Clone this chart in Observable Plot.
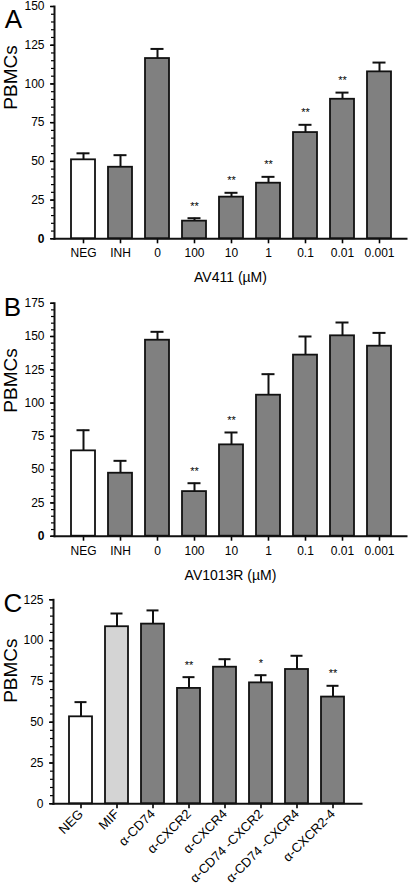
<!DOCTYPE html>
<html><head><meta charset="utf-8">
<script src="https://cdn.jsdelivr.net/npm/d3@7"></script>
<script src="https://cdn.jsdelivr.net/npm/@observablehq/plot@0.6"></script>
<style>
body{margin:0;background:#fff;width:408px;height:888px;overflow:hidden}
svg{display:block}
g[aria-label="x-axis tick label"] text, g[aria-label="y-axis tick label"] text{font-size:12px}
#pc g[aria-label="x-axis tick label"] text{font-size:13px}
</style>
</head><body><div id="chart"></div>
<script>
// Panel A
const catsA = ["NEG","INH","0","100","10","1","0.1","0.01","0.001"];
const meanA = [51,46.2,116.4,11.4,26.9,35.9,68.6,90.1,107.8];
const errA  = [55.2,54,122.6,13.3,29.7,40,73.6,94.4,113.8];
const starsA = ["","","","**","**","**","**","**",""];
const groupA = ["neg","drug","drug","drug","drug","drug","drug","drug","drug"];
const yTicksA = [0,25,50,75,100,125,150];
// Panel B
const catsB = ["NEG","INH","0","100","10","1","0.1","0.01","0.001"];
const meanB = [64.1,47.3,147.2,33.5,68.6,105.9,136,150.5,142.7];
const errB  = [79.6,56.6,153.5,39.8,77.9,121.7,150,160.5,152.7];
const starsB = ["","","","**","**","","","",""];
const groupB = ["neg","drug","drug","drug","drug","drug","drug","drug","drug"];
const yTicksB = [0,25,50,75,100,125,150,175];
// Panel C
const catsC = ["NEG","MIF","α-CD74","α-CXCR2","α-CXCR4","α-CD74 -CXCR2","α-CD74 -CXCR4","α-CXCR2-4"];
const meanC = [53.3,108.5,110.1,70.7,83.7,74.1,82.3,65.4];
const errC  = [62.3,116.6,118.5,77.6,88.6,78.8,90.7,72.3];
const starsC = ["","","","**","","*","","**"];
const groupC = ["neg","mif","drug","drug","drug","drug","drug","drug"];
const yTicksC = [0,25,50,75,100,125];

const FONT = "'Liberation Sans', Arial, Helvetica, sans-serif";

function panel(o) {
  const data = o.cats.map((c, i) => ({c, m: o.mean[i], e: o.err[i], s: o.stars[i], g: o.group[i]}));
  const yMax = o.yTicks[o.yTicks.length - 1];
  const marks = [
    Plot.ruleX(data, {x: "c", y1: "m", y2: "e", stroke: "#111", strokeWidth: 2}),
    Plot.tickY(data, {x: "c", y: "e", stroke: "#111", strokeWidth: 2, insetLeft: 5.5, insetRight: 5.5}),
    Plot.barY(data, {x: "c", y: "m", fill: "g", stroke: "#111", strokeWidth: 1.8}),
    Plot.text(data.filter(d => d.s), {x: "c", y: "e", text: "s", dy: -12, fontSize: 11, fill: "black"}),
    Plot.axisY({ticks: d3.range(0, yMax + 1, 5), tickSize: 3, tickFormat: () => "", strokeWidth: 1.2, label: null}),
    Plot.axisY({ticks: o.yTicks, tickSize: 4, tickPadding: 6, strokeWidth: 1.5, fontSize: 12, label: null}),
    Plot.axisX({tickSize: 5, tickPadding: o.rotate ? 3 : 5, strokeWidth: 1.6, fontSize: 12, label: null, tickRotate: o.rotate || 0}),
    Plot.frame({anchor: "left", stroke: "#111", strokeWidth: 2}),
    Plot.frame({anchor: "bottom", stroke: "#111", strokeWidth: 2}),
    Plot.text([o.yLabel], {frameAnchor: "left", rotate: -90, dx: o.yLabelDx, dy: o.yLabelDy, fontSize: 19, lineAnchor: "middle"}),
    Plot.text([o.letter], {frameAnchor: "top-left", dx: o.letterDx, dy: o.letterDy, fontSize: 26, textAnchor: "middle", lineAnchor: "middle"})
  ];
  if (o.xLabel) marks.push(Plot.text([o.xLabel], {frameAnchor: "bottom", dy: o.xLabelDy, fontSize: 14, lineAnchor: "middle"}));
  const svg = Plot.plot({
    width: 408, height: o.height,
    marginTop: o.mt, marginBottom: o.mb, marginLeft: o.ml, marginRight: o.mr,
    style: {fontFamily: FONT, fontSize: "12px", color: "#000", background: "#fff", overflow: "visible"},
    x: {domain: o.cats, padding: 0.35, insetLeft: o.insetL || 0, insetRight: o.insetR || 0, label: null},
    y: {domain: [0, yMax], label: null},
    color: {domain: ["neg", "mif", "drug"], range: ["#ffffff", "#d4d4d4", "#808080"]},
    marks
  });
  svg.id = o.id;
  return svg;
}

const root = document.getElementById("chart");
const pA = panel({id: "pa", cats: catsA, mean: meanA, err: errA, stars: starsA, group: groupA, yTicks: yTicksA,
  height: 290, mt: 6, mb: 51.7, ml: 54, mr: 2, insetL: 2.6, insetR: 0.6,
  xLabel: "AV411 (µM)", xLabelDy: 39, yLabel: "PBMCs", yLabelDx: -44, yLabelDy: -13,
  letter: "A", letterDx: -41, letterDy: 13});
const pB = panel({id: "pb", cats: catsB, mean: meanB, err: errB, stars: starsB, group: groupB, yTicks: yTicksB,
  height: 300, mt: 12.7, mb: 54.3, ml: 54, mr: 2, insetL: 2.6, insetR: 0.6,
  xLabel: "AV1013R (µM)", xLabelDy: 39, yLabel: "PBMCs", yLabelDx: -44, yLabelDy: -7,
  letter: "B", letterDx: -42, letterDy: 4.3});
const pC = panel({id: "pc", cats: catsC, mean: meanC, err: errC, stars: starsC, group: groupC, yTicks: yTicksC,
  height: 298, mt: 9.3, mb: 84.7, ml: 53, mr: 47, rotate: -45,
  yLabel: "PBMCs", yLabelDx: -43, yLabelDy: 1,
  letter: "C", letterDx: -40.5, letterDy: 3.7});
root.append(pA, pB, pC);
// bold zero tick in panels A and B
for (const p of [pA, pB]) {
  d3.select(p).selectAll("g[aria-label='y-axis tick label'] text")
    .filter(function() { return this.textContent === "0"; })
    .attr("font-weight", "bold");
}
</script>
</body></html>
